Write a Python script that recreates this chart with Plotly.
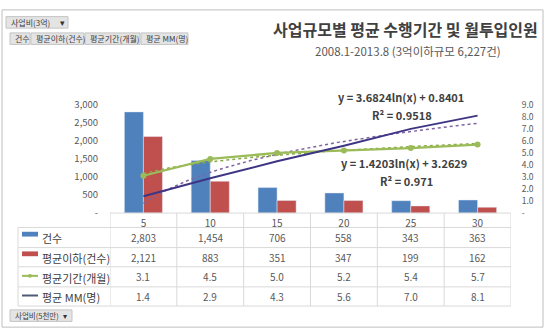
import numpy as np
import plotly.graph_objects as go

# ---- data ----
categories = ["5", "10", "15", "20", "25", "30"]
count_total = [2803, 1454, 706, 558, 343, 363]
count_below = [2121, 883, 351, 347, 199, 162]
avg_period = [3.1, 4.5, 5.0, 5.2, 5.4, 5.7]
avg_mm = [1.4, 2.9, 4.3, 5.6, 7.0, 8.1]
series_names = ["건수", "평균이하(건수)", "평균기간(개월)", "평균 MM(명)"]
left_ticks = [0, 500, 1000, 1500, 2000, 2500, 3000]
right_ticks = [0, 1, 2, 3, 4, 5, 6, 7, 8, 9]
trend_mm_text = ["y = 3.6824ln(x) + 0.8401", "R² = 0.9518"]
trend_period_text = ["y = 1.4203ln(x) + 3.2629", "R² = 0.971"]
title = "사업규모별 평균 수행기간 및 월투입인원"
subtitle = "2008.1-2013.8 (3억이하규모 6,227건)"
pivot_top = "사업비(3억)"
pivot_bottom = "사업비(5천만)"

W, H = 546, 336
BLUE, RED, GREEN, PURPLE, LPURPLE = "#4F81BD", "#C0504D", "#9BBB59", "#3F3585", "#8064A2"
GRID = "#D9D9D9"
TXT = "#595959"
FONT = "Noto Sans CJK KR"

def px(x):
    return x / W

def py(y):
    return 1 - y / H

xpos = np.arange(1, len(categories) + 1)

fig = go.Figure()
fig.add_trace(go.Bar(x=xpos, y=count_total, marker_color=BLUE, name=series_names[0]))
fig.add_trace(go.Bar(x=xpos, y=count_below, marker_color=RED, name=series_names[1]))

# trendlines (logarithmic fit, as Excel does)
xs = np.linspace(1, len(categories), 80)
for vals, col in [(avg_mm, LPURPLE), (avg_period, "#88A845")]:
    b, a = np.polyfit(np.log(xpos), vals, 1)
    fig.add_trace(go.Scatter(x=xs, y=b * np.log(xs) + a, yaxis="y2", mode="lines",
                             line=dict(color=col, width=1.5, dash="dot"), hoverinfo="skip"))

fig.add_trace(go.Scatter(x=xpos, y=avg_period, yaxis="y2", mode="lines+markers",
                         line=dict(color=GREEN, width=2.25), marker=dict(size=6, color=GREEN),
                         name=series_names[2]))
fig.add_trace(go.Scatter(x=xpos, y=avg_mm, yaxis="y2", mode="lines",
                         line=dict(color=PURPLE, width=2), name=series_names[3]))

plot_l, plot_r, plot_t, plot_b = 110, 511, 101, 214

fig.update_layout(
    width=W, height=H, margin=dict(l=0, r=0, t=0, b=0),
    paper_bgcolor="white", plot_bgcolor="white", showlegend=False,
    barmode="group", bargap=0.43, bargroupgap=0,
    font=dict(family=FONT, color=TXT, size=10),
    xaxis=dict(domain=[px(plot_l), px(plot_r)], range=[0.5, len(categories) + 0.5],
               tickvals=list(xpos), ticktext=categories, ticks="outside", ticklen=1,
               tickcolor="rgba(0,0,0,0)", showline=False, showgrid=False, zeroline=False,
               tickfont=dict(size=10, color=TXT)),
    yaxis=dict(domain=[py(plot_b), py(plot_t)], range=[0, left_ticks[-1]],
               tickvals=left_ticks, ticktext=["-" if v == 0 else f"{v:,}" for v in left_ticks],
               ticks="outside", ticklen=9, tickcolor="rgba(0,0,0,0)",
               showgrid=False, zeroline=False, showline=False, tickfont=dict(size=9.5, color=TXT)),
    yaxis2=dict(overlaying="y", side="right", range=[0, right_ticks[-1]],
                tickvals=right_ticks, ticktext=["-" if v == 0 else f"{v:.1f}" for v in right_ticks],
                ticks="outside", ticklen=8, tickcolor="rgba(0,0,0,0)",
                showgrid=False, zeroline=False, showline=False, tickfont=dict(size=8.5, color=TXT)),
)

shapes = []
anns = []
# outer border
shapes.append(dict(type="rect", xref="paper", yref="paper", x0=px(2), x1=px(543), y0=py(333), y1=py(2),
                   line=dict(color="#BFBFBF", width=1), fillcolor="rgba(0,0,0,0)"))
# table grid
row_lines = [229, 250, 270, 291, 311]
shapes.append(dict(type="line", xref="x", yref="paper", x0=0.5, x1=len(categories) + 0.5,
                   y0=py(plot_b), y1=py(plot_b), line=dict(color=GRID, width=1)))
for yl in row_lines:
    shapes.append(dict(type="line", xref="paper", yref="paper", x0=px(18), x1=px(plot_r),
                       y0=py(yl), y1=py(yl), line=dict(color=GRID, width=1)))
shapes.append(dict(type="line", xref="paper", yref="paper", x0=px(18), x1=px(18),
                   y0=py(row_lines[0]), y1=py(row_lines[-1]), line=dict(color=GRID, width=1)))
for k in range(len(categories) + 1):
    shapes.append(dict(type="line", xref="x", yref="paper", x0=0.5 + k, x1=0.5 + k,
                       y0=py(plot_b), y1=py(row_lines[-1]), line=dict(color=GRID, width=1)))

rows = [count_total, count_below, avg_period, avg_mm]
fmts = [lambda v: f"{v:,}", lambda v: f"{v:,}", lambda v: f"{v:.1f}", lambda v: f"{v:.1f}"]
row_centers = [(row_lines[i] + row_lines[i + 1]) / 2 for i in range(4)]
for r, (vals, fm, yc) in enumerate(zip(rows, fmts, row_centers)):
    for i, v in enumerate(vals):
        anns.append(dict(x=xpos[i], y=py(yc), xref="x", yref="paper", text=fm(v), showarrow=False,
                         font=dict(size=10, color=TXT), xanchor="center", yanchor="middle"))
    anns.append(dict(x=px(40), y=py(yc + 1), xref="paper", yref="paper", text=series_names[r],
                     showarrow=False, font=dict(size=11, color="#404040"), xanchor="left", yanchor="middle"))

# legend keys
shapes.append(dict(type="rect", xref="paper", yref="paper", x0=px(22), x1=px(38),
                   y0=py(row_centers[0] - 1), y1=py(row_centers[0] - 6), fillcolor=BLUE, line=dict(width=0)))
shapes.append(dict(type="rect", xref="paper", yref="paper", x0=px(22), x1=px(38),
                   y0=py(row_centers[1] - 1), y1=py(row_centers[1] - 6), fillcolor=RED, line=dict(width=0)))
shapes.append(dict(type="line", xref="paper", yref="paper", x0=px(22), x1=px(38),
                   y0=py(row_centers[2] - 1), y1=py(row_centers[2] - 1), line=dict(color=GREEN, width=2)))
shapes.append(dict(type="circle", xref="paper", yref="paper", x0=px(28), x1=px(32),
                   y0=py(row_centers[2] - 3), y1=py(row_centers[2] + 1), fillcolor=GREEN, line=dict(width=0)))
shapes.append(dict(type="line", xref="paper", yref="paper", x0=px(22), x1=px(38),
                   y0=py(row_centers[3] - 1), y1=py(row_centers[3] - 1), line=dict(color="#505A78", width=2)))

# trendline labels
for txt, (xc, yc) in zip(trend_mm_text + trend_period_text, [(401, 93), (402, 112), (404, 162), (406, 180)]):
    anns.append(dict(x=px(xc), y=py(yc), xref="paper", yref="paper", text=f"<b>{txt}</b>", showarrow=False,
                     font=dict(size=11, color="#404040"), xanchor="center", yanchor="middle"))

# titles
anns.append(dict(x=px(405), y=py(22), xref="paper", yref="paper", text=f"<b>{title}</b>", showarrow=False,
                 font=dict(size=16, color="#404040"), xanchor="center", yanchor="middle"))
anns.append(dict(x=px(408), y=py(45), xref="paper", yref="paper", text=subtitle, showarrow=False,
                 font=dict(size=11.5, color=TXT), xanchor="center", yanchor="middle"))

# pivot buttons
def button(x0, x1, y0, y1, text, size=8):
    shapes.append(dict(type="rect", xref="paper", yref="paper", x0=px(x0), x1=px(x1), y0=py(y1), y1=py(y0),
                       fillcolor="#E4E4E4", line=dict(color="#C4C4C4", width=1)))
    anns.append(dict(x=px(x0 + 3), y=py((y0 + y1) / 2), xref="paper", yref="paper", text=text, showarrow=False,
                     font=dict(size=size, color="#404040"), xanchor="left", yanchor="middle"))

button(6, 68, 9, 21, pivot_top)
anns.append(dict(x=px(62), y=py(15), xref="paper", yref="paper", text="▾", showarrow=False,
                 font=dict(size=9, color="#333"), xanchor="center", yanchor="middle"))
bx = [(10, 30), (31, 84), (85, 140), (141, 188)]
for (a, b), name in zip(bx, series_names):
    button(a, b, 26, 38, name)
button(10, 72, 315, 327, pivot_bottom, size=7.5)
anns.append(dict(x=px(65), y=py(321), xref="paper", yref="paper", text="▾", showarrow=False,
                 font=dict(size=8, color="#333"), xanchor="center", yanchor="middle"))

fig.update_layout(shapes=shapes, annotations=anns)
fig.write_html("out.html")
